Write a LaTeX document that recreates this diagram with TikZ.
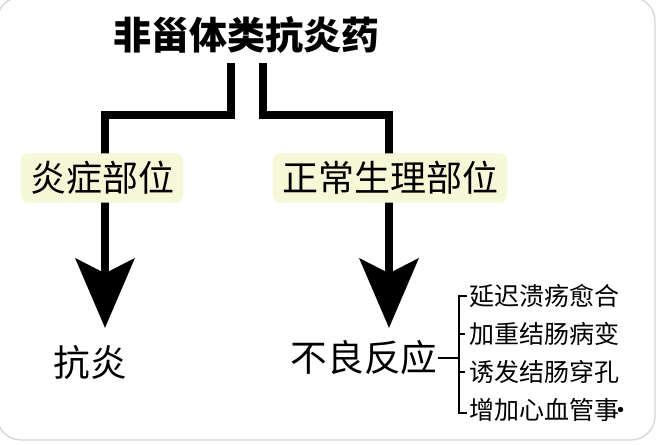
\documentclass[tikz,border=0pt]{standalone}
\usepackage{fontspec}
\usetikzlibrary{arrows.meta}
\newfontfamily\cjk{Noto Sans CJK SC}
\definecolor{glow}{RGB}{246,248,216}
\definecolor{framegray}{RGB}{214,214,214}

\begin{document}
\begin{tikzpicture}[x=0.75pt,y=-0.75pt,
  every node/.style={inner sep=0pt, font=\cjk},
  link/.style={line width=6.2pt},
  arrowlink/.style={link, -{Stealth[length=52pt,width=44pt,inset=11pt]}},
  place/.style={fill=glow, inner xsep=7pt, inner ysep=6pt, rounded corners=6pt, font=\cjk\fontsize{27}{30}\selectfont},
  result/.style={font=\cjk\fontsize{27.5}{30}\selectfont},
  effect/.style={anchor=west, font=\cjk\fontsize{18.75}{22}\selectfont},
  brace/.style={line width=1.6pt}]
\useasboundingbox (0,0) rectangle (660,445);
\draw[framegray, line width=1pt, rounded corners=18pt] (-3,-3) rectangle (655,440);

% title and the two branches
\node (title) at (246,35) {\fontsize{28.5}{32}\selectfont\bfseries 非甾体类抗炎药};
\coordinate (dropA) at (231,63);
\coordinate (dropB) at (263,63);
\coordinate (tipA) at (105,328);
\coordinate (tipB) at (389,328);
\draw[arrowlink] (dropA) -- ++(0,52) -| (tipA);
\draw[arrowlink] (dropB) -- ++(0,52) -| (tipB);

\node[place] (siteA) at (102,178) {炎症部位};
\node[place] (siteB) at (390,178) {正常生理部位};

% outcomes
\node[result] (resA) at (90,363) {抗炎};
\node[result] (resB) at (364,358) {不良反应};

% adverse effects
\coordinate (bk) at (459,358);
\draw[brace] (resB.east) -- (bk);
\draw[brace] (467,296) -| (459,413) -- (467,413);
\draw[brace] (459,334) -- ++(6,0);
\draw[brace] (459,372) -- ++(6,0);
\node[effect] (e1) at (469,296) {延迟溃疡愈合};
\node[effect] (e2) at (469,334) {加重结肠病变};
\node[effect] (e3) at (469,372) {诱发结肠穿孔};
\node[effect] (e4) at (469,410) {增加心血管事\kern-0.42em·};
\end{tikzpicture}
\end{document}
